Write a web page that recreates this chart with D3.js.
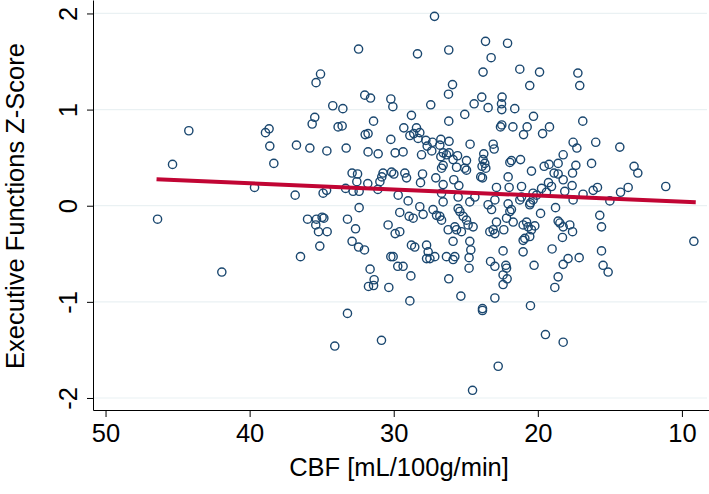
<!DOCTYPE html>
<html><head><meta charset="utf-8">
<script src="https://cdn.jsdelivr.net/npm/d3@7"></script>
<style>html,body{margin:0;padding:0;background:#fff;} svg{display:block;font-family:"Liberation Sans",Arial,Helvetica,sans-serif;}</style>
</head><body><svg id="c" width="709" height="494"></svg>
<script>
// CBF (x) and Executive Functions Z-score (y), one entry per participant
const cbf = [
32.44,35.08,35.39,32.01,31.61,30.20,30.06,34.23,33.53,35.48,
35.66,31.40,44.22,38.65,38.90,33.86,33.58,31.98,31.78,30.20,
38.60,36.75,35.82,34.64,33.30,31.78,31.08,29.90,45.35,38.32,
32.89,32.51,30.74,30.83,30.15,29.99,32.56,30.96,39.66,36.84,
34.90,34.66,33.34,32.82,32.40,31.80,31.10,29.69,46.39,32.40,
35.98,35.36,34.97,34.85,35.41,35.22,34.62,35.13,33.21,32.65,
30.39,29.90,29.58,32.89,32.44,32.03,36.47,30.20,30.04,29.72,
41.93,31.64,31.36,31.75,31.40,30.34,33.21,34.09,30.85,27.17,
23.63,22.10,28.35,26.18,23.24,23.80,21.25,19.88,17.22,20.56,
17.09,25.92,26.20,23.89,22.48,27.43,24.42,23.45,22.52,22.50,
21.60,28.77,25.07,20.30,26.18,16.88,29.30,28.42,28.88,28.61,
28.19,28.31,22.50,22.59,21.73,20.74,19.19,20.99,19.67,27.77,
27.31,27.68,26.73,26.16,29.35,27.36,26.80,24.70,23.10,23.03,
17.55,17.29,15.98,14.31,28.07,26.57,26.34,26.73,26.16,25.57,
26.57,26.68,25.88,24.95,23.75,23.80,23.68,23.87,23.61,18.24,
21.94,21.83,21.20,19.56,19.22,18.59,17.36,16.27,13.32,13.06,
29.23,29.11,28.00,28.14,27.08,25.64,25.07,24.95,25.83,25.48,
26.57,23.96,23.84,22.06,20.44,18.87,18.59,17.59,18.24,19.26,
17.62,22.87,21.99,21.13,19.74,19.05,16.16,15.86,13.73,11.12,
16.86,14.26,26.68,25.53,24.37,20.33,20.09,19.40,18.13,29.00,
28.93,28.65,28.19,27.96,27.27,27.03,26.80,26.68,26.57,25.53,
25.41,25.18,24.95,24.72,23.45,23.21,22.98,22.06,21.83,21.94,
21.25,21.13,20.51,20.33,20.56,19.81,18.77,17.55,15.70,15.00,
29.58,26.22,25.76,25.64,25.30,24.84,24.49,23.33,23.10,22.98,
22.87,22.36,22.17,21.71,21.02,20.78,20.67,20.44,20.21,20.56,
18.59,18.47,18.24,17.78,17.59,18.29,15.58,28.77,28.54,27.72,
27.61,27.72,27.49,27.15,26.34,25.88,25.76,25.88,24.72,24.65,
24.77,22.41,21.02,20.90,21.02,19.01,17.90,17.13,15.58,9.17,
29.35,28.81,26.18,24.77,23.28,22.98,22.22,22.17,22.41,22.13,
22.41,20.26,18.24,18.59,18.82,15.47,15.12,25.34,22.98,28.88,
23.84,23.84,20.51,19.47,18.24,22.75,24.53
];
const ef = [
1.63,1.37,1.28,1.15,1.12,1.11,1.03,1.04,1.01,0.92,
0.85,0.88,0.78,0.80,0.76,0.82,0.83,0.74,0.75,0.69,
0.62,0.63,0.60,0.57,0.60,0.56,0.54,0.55,0.43,0.44,
0.34,0.33,0.34,0.30,0.35,0.33,0.25,0.25,0.19,0.11,
0.13,0.16,0.18,0.15,0.15,0.23,0.17,0.11,-0.14,-0.02,
-0.14,-0.14,-0.12,-0.13,-0.20,-0.27,-0.27,-0.42,-0.14,-0.24,
-0.20,-0.29,-0.07,-0.37,-0.43,-0.46,-0.53,-0.53,-0.53,-0.63,
-0.69,-0.66,-0.77,-0.84,-0.83,-0.85,-1.12,-1.46,-1.40,1.97,
1.71,1.69,1.58,1.62,1.54,1.39,1.42,1.39,1.38,1.25,
1.25,1.26,1.16,1.13,1.13,1.05,1.06,1.02,1.06,1.00,
1.01,0.94,0.95,0.93,0.88,0.88,0.81,0.81,0.73,0.75,
0.76,0.70,0.84,0.82,0.82,0.82,0.82,0.74,0.75,0.68,
0.66,0.62,0.69,0.67,0.56,0.57,0.63,0.64,0.64,0.59,
0.66,0.60,0.66,0.61,0.53,0.55,0.53,0.51,0.55,0.52,
0.42,0.39,0.48,0.47,0.54,0.48,0.44,0.41,0.39,0.53,
0.45,0.47,0.48,0.41,0.43,0.44,0.42,0.44,0.41,0.34,
0.34,0.29,0.33,0.24,0.29,0.40,0.39,0.37,0.27,0.21,
0.22,0.30,0.29,0.30,0.36,0.34,0.33,0.34,0.27,0.24,
0.21,0.19,0.19,0.20,0.18,0.20,0.16,0.19,0.19,0.20,
0.12,0.14,0.13,0.09,0.09,0.13,0.11,0.14,0.15,0.05,
-0.11,-0.13,-0.01,-0.09,-0.04,-0.10,-0.11,-0.15,0.04,-0.03,
-0.06,-0.11,-0.15,0.04,0.01,-0.04,0.06,0.02,-0.04,-0.06,
0.06,0.09,0.03,0.06,0.01,-0.08,-0.02,0.06,-0.10,0.05,
-0.27,-0.25,-0.22,-0.25,-0.27,-0.20,-0.22,-0.27,-0.25,-0.29,
-0.17,-0.25,-0.13,-0.17,-0.20,-0.17,-0.22,-0.25,-0.21,-0.32,
-0.16,-0.18,-0.22,-0.20,-0.27,-0.33,-0.22,-0.41,-0.43,-0.41,
-0.48,-0.55,-0.55,-0.53,-0.53,-0.56,-0.53,-0.37,-0.37,-0.46,
-0.54,-0.47,-0.36,-0.34,-0.48,-0.45,-0.55,-0.54,-0.47,-0.37,
-0.63,-0.73,-0.76,-0.65,-0.58,-0.63,-0.62,-0.65,-0.72,-0.76,
-0.82,-0.62,-0.61,-0.74,-0.85,-0.62,-0.69,-0.94,-0.96,-0.99,
-1.07,-1.09,-1.04,-1.34,-1.42,-1.67,-1.92
];
// fitted linear trend endpoints
const fitCbf = [46.46, 9.04];
const fitEf = [0.275, 0.035];
const xTicks = [50, 40, 30, 20, 10];
const yTicks = [2, 1, 0, -1, -2];
const xTitle = "CBF [mL/100g/min]";
const yTitle = "Executive Functions Z-Score";

const svg = d3.select("#c");
const x = d3.scaleLinear().domain([50.87, 8.12]).range([93, 709]);
const y = d3.scaleLinear().domain([2.14, -2.125]).range([0, 410]);

// gridlines
svg.append("g").selectAll("line").data(yTicks).join("line")
  .attr("x1", x.range()[0]).attr("x2", 707)
  .attr("y1", d => y(d)).attr("y2", d => y(d))
  .attr("stroke", "#eaf1f3").attr("stroke-width", 1.2);

// points
svg.append("g").selectAll("circle").data(cbf.map((v, i) => [v, ef[i]])).join("circle")
  .attr("cx", d => x(d[0])).attr("cy", d => y(d[1])).attr("r", 4.1)
  .attr("fill", "none").attr("stroke", "#1a476f").attr("stroke-width", 1.4);

// fit line
svg.append("path").datum(fitCbf.map((v, i) => [v, fitEf[i]]))
  .attr("d", d3.line().x(d => x(d[0])).y(d => y(d[1])))
  .attr("stroke", "#c10534").attr("stroke-width", 4).attr("fill", "none");

// axes
const fs = "25.5px";
const gx = svg.append("g").attr("transform", `translate(0,${y.range()[1]})`)
  .call(d3.axisBottom(x).tickValues(xTicks).tickFormat(d3.format("d")).tickSize(7).tickSizeOuter(0));
gx.selectAll("text").attr("dy", null).attr("y", 32).attr("font-size", fs).attr("fill", "#000")
  .attr("font-family", "Liberation Sans, Arial, sans-serif");
gx.select(".domain").attr("stroke", "#000");
gx.selectAll(".tick line").attr("stroke", "#000");

const gy = svg.append("g").attr("transform", `translate(${x.range()[0]},0)`)
  .call(d3.axisLeft(y).tickValues(yTicks).tickFormat(d => String(d)).tickSize(6).tickSizeOuter(0));
gy.selectAll("text").attr("x", null).attr("dy", null)
  .attr("transform", "translate(-16,0) rotate(-90)").attr("text-anchor", "middle")
  .attr("font-size", fs).attr("fill", "#000").attr("font-family", "Liberation Sans, Arial, sans-serif");
gy.select(".domain").attr("stroke", "#000");
gy.selectAll(".tick line").attr("stroke", "#000");

// titles
svg.append("text").attr("x", 399).attr("y", 476).attr("text-anchor", "middle")
  .attr("font-size", fs).attr("fill", "#000").text(xTitle);
svg.append("text").attr("transform", "translate(24,206) rotate(-90)").attr("text-anchor", "middle")
  .attr("font-size", fs).attr("fill", "#000").text(yTitle);
</script></body></html>
